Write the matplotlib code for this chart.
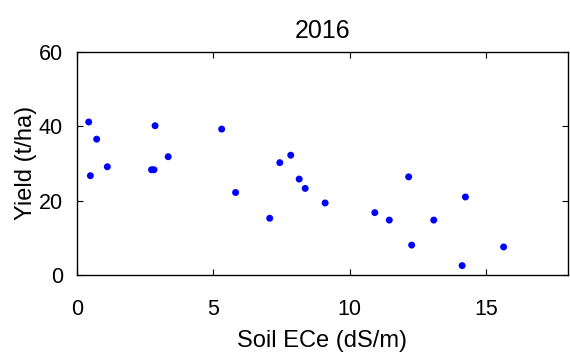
import matplotlib
matplotlib.use('Agg')
import matplotlib.pyplot as plt

# Soil ECe (dS/m) vs yield (t/ha), 2016
ece = [0.44, 0.50, 0.73, 1.12, 2.74, 2.83, 2.87, 3.35, 5.31, 5.82, 7.07, 7.44,
       7.84, 8.15, 8.37, 9.10, 10.92, 11.45, 12.16, 12.27, 13.08, 14.12, 14.24, 15.64]
yield_tha = [41.1, 26.7, 36.5, 29.1, 28.3, 28.3, 40.1, 31.8, 39.2, 22.2, 15.3, 30.2,
             32.2, 25.8, 23.3, 19.4, 16.8, 14.8, 26.4, 8.1, 14.8, 2.6, 21.0, 7.6]
x_ticks = [0, 5, 10, 15]
y_ticks = [0, 20, 40, 60]

plt.rcParams['font.family'] = ['Liberation Sans', 'DejaVu Sans']

fig = plt.figure(figsize=(5.7, 3.56), dpi=100)
ax = fig.add_axes([0.1346, 0.2267, 0.862, 0.6286])

ax.scatter(ece, yield_tha, s=25, c='#0000ff', edgecolors='none')

ax.set_xlim(0, 18)
ax.set_ylim(0, 60)
ax.set_xticks(x_ticks)
ax.set_yticks(y_ticks)
ax.tick_params(direction='in', length=4, width=0.8, top=True, right=True,
               labelsize=15.5)
ax.tick_params(axis='x', pad=17)
ax.tick_params(axis='y', pad=10)
for s in ax.spines.values():
    s.set_linewidth(1.0)

ax.set_title('2016', fontsize=18, pad=10)
ax.set_xlabel('Soil ECe (dS/m)', fontsize=17, labelpad=7)
ax.set_ylabel('Yield (t/ha)', fontsize=17, labelpad=1)

fig.savefig('out.png', dpi=100)
